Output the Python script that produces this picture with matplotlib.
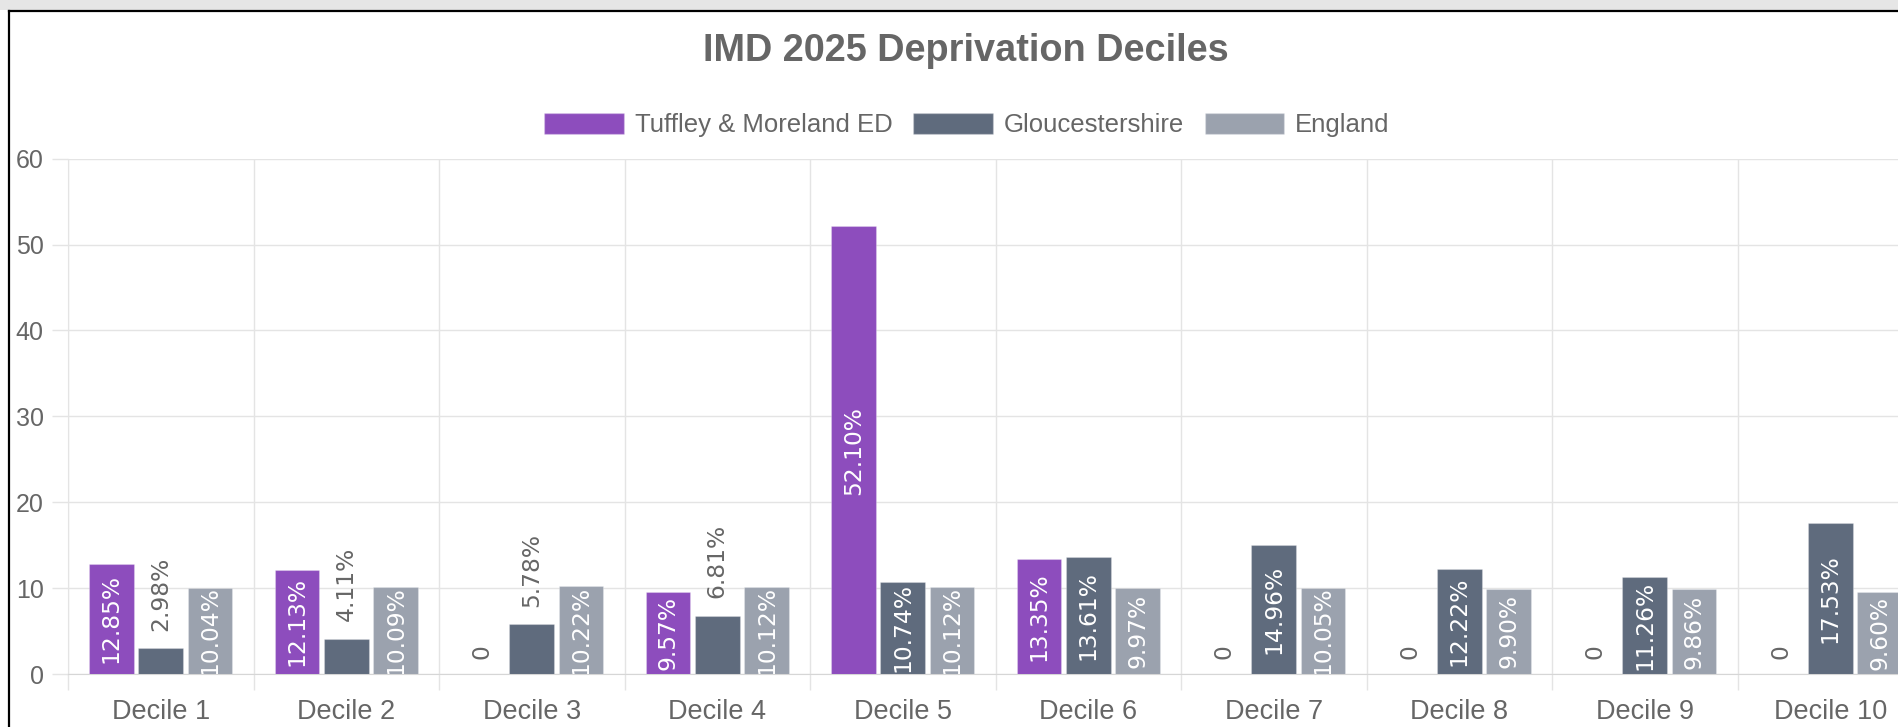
import matplotlib
matplotlib.use("Agg")
import matplotlib.pyplot as plt
from matplotlib.patches import Rectangle, Patch
from matplotlib.lines import Line2D
import numpy as np

categories = ["Decile 1", "Decile 2", "Decile 3", "Decile 4", "Decile 5",
              "Decile 6", "Decile 7", "Decile 8", "Decile 9", "Decile 10"]
series_names = ["Tuffley & Moreland ED", "Gloucestershire", "England"]
tuffley = [12.85, 12.13, 0, 9.57, 52.10, 13.35, 0, 0, 0, 0]
gloucestershire = [2.98, 4.11, 5.78, 6.81, 10.74, 13.61, 14.96, 12.22, 11.26, 17.53]
england = [10.04, 10.09, 10.22, 10.12, 10.12, 9.97, 10.05, 9.90, 9.86, 9.60]
y_ticks = [0, 10, 20, 30, 40, 50, 60]
title = "IMD 2025 Deprivation Deciles"

colors = ["#8d4dbd", "#5f6b7d", "#9ba2ae"]
grid_c = "#e4e4e4"
text_c = "#666666"

W, H = 1898, 727
fig = plt.figure(figsize=(W / 100, H / 100), dpi=100)
fig.patch.set_facecolor("white")

# screenshot frame: grey band at top, black border lines
fig.patches.append(Rectangle((0, 1 - 10 / H), 1, 10 / H, transform=fig.transFigure,
                             facecolor="#e6e6e6", edgecolor="none"))
fig.lines.append(Line2D([8.5 / W, 1], [1 - 10.5 / H, 1 - 10.5 / H], transform=fig.transFigure,
                        color="black", lw=1.6))
fig.lines.append(Line2D([8.5 / W, 8.5 / W], [0, 1 - 10.5 / H], transform=fig.transFigure,
                        color="black", lw=1.6))

left, right = 68, 68 + 1855
top, bottom = 158.6, 674
ax = fig.add_axes([left / W, 1 - bottom / H, (right - left) / W, (bottom - top) / H])

n = len(categories)
x = np.arange(n)
group = 0.8
slot = group / 3
bw = slot * 0.9
data = [tuffley, gloucestershire, england]
lab_fs = 16.8

for si, (vals, col) in enumerate(zip(data, colors)):
    xs = x + (si - 1) * slot
    ax.bar(xs, vals, width=bw, color=col, edgecolor=(1, 1, 1, 0.25), linewidth=0.8, zorder=3)
    for xi, v in zip(xs, vals):
        if v == 0:
            ax.annotate("0", (xi, 0), xytext=(0, 10.5), textcoords="offset points",
                        rotation=90, ha="center", va="bottom", color=text_c,
                        fontsize=lab_fs, family="DejaVu Sans", zorder=4)
        elif v < 8:
            ax.annotate(f"{v:.2f}%", (xi, v), xytext=(0, 12.5), textcoords="offset points",
                        rotation=90, ha="center", va="bottom", color=text_c,
                        fontsize=lab_fs, family="DejaVu Sans", zorder=4)
        else:
            ax.text(xi, v / 2, f"{v:.2f}%", rotation=90, ha="center", va="center",
                    color="white", fontsize=lab_fs, family="DejaVu Sans", zorder=4,
                    clip_on=True)

ax.set_xlim(-0.5, n - 0.5)
ax.set_ylim(0, 60)
ax.set_yticks(y_ticks)
ax.set_yticklabels([str(t) for t in y_ticks])
ax.set_xticks(x)
ax.set_xticklabels(categories)
ax.set_xticks(np.arange(n + 1) - 0.5, minor=True)

ax.tick_params(axis="x", which="major", length=0, pad=18, labelsize=19.5,
               labelcolor=text_c)
ax.tick_params(axis="x", which="minor", length=11.5, width=1, color=grid_c,
               direction="out")
ax.tick_params(axis="y", which="major", length=11.5, width=1, color=grid_c,
               pad=6, labelsize=18, labelcolor=text_c)
for lab in ax.get_xticklabels() + ax.get_yticklabels():
    lab.set_family("Liberation Sans")

ax.grid(axis="y", which="major", color=grid_c, lw=1, zorder=0)
ax.grid(axis="x", which="minor", color=grid_c, lw=1, zorder=0)
ax.set_axisbelow(True)
for s in ["top", "right"]:
    ax.spines[s].set_visible(False)
ax.spines["left"].set_color(grid_c)
ax.spines["bottom"].set_color("#d6d6d6")

fig.text(966 / W, 1 - 51 / H, title, ha="center", va="center", fontsize=27.3,
         fontweight="bold", color=text_c, family="Liberation Sans")

handles = [Patch(facecolor=c, edgecolor=(1, 1, 1, 0.25)) for c in colors]
leg = fig.legend(handles, series_names, loc="center", bbox_to_anchor=(967 / W, 1 - 125 / H),
                 ncol=3, frameon=False, prop={"family": "Liberation Sans", "size": 18.5},
                 handlelength=3.1, handleheight=0.93, handletextpad=0.43,
                 columnspacing=0.8, labelcolor=text_c)

fig.savefig("out.png", dpi=100)
